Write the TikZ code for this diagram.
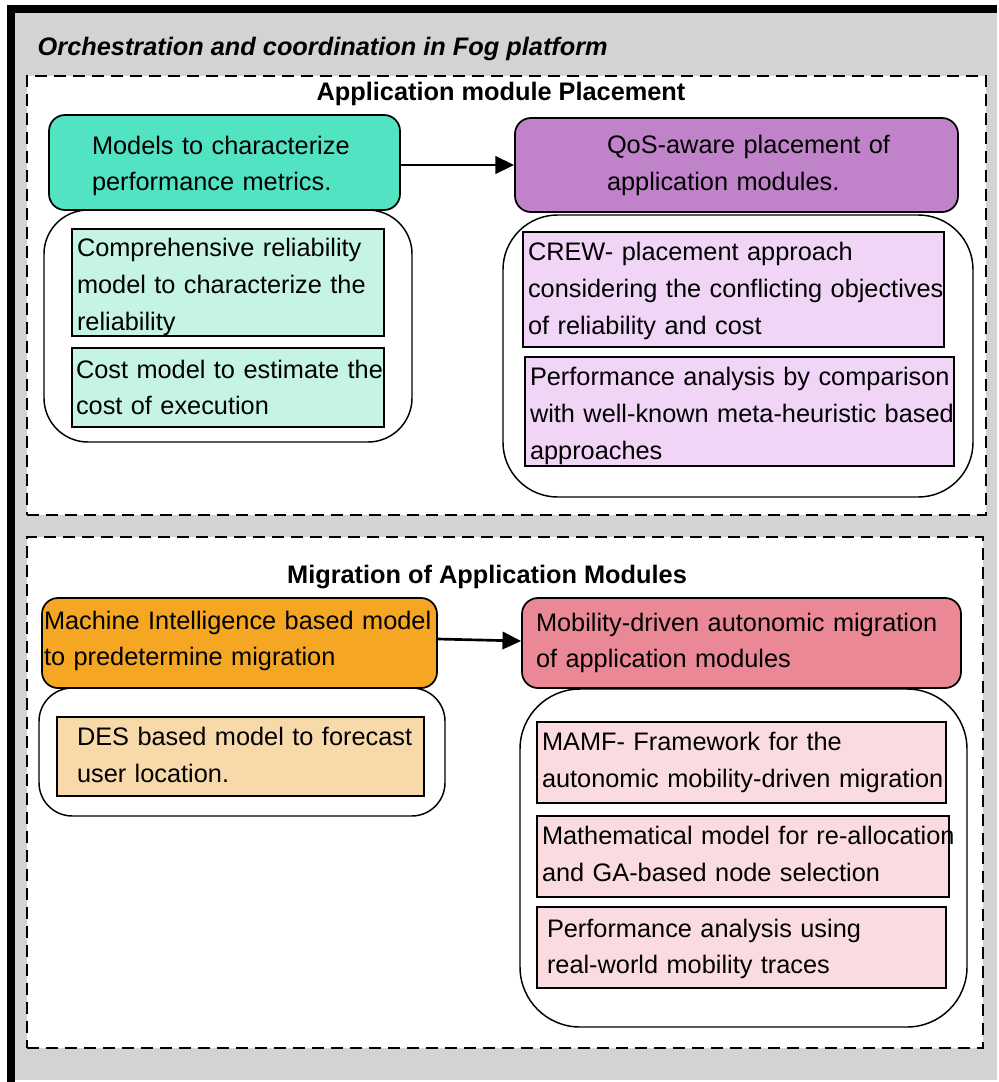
\documentclass[tikz,border=0pt]{standalone}
\usepackage{fontspec}
\setmainfont{Liberation Sans}
\usetikzlibrary{arrows.meta}

\definecolor{panelgray}{RGB}{211,211,211}
\definecolor{teal1}{RGB}{82,227,194}
\definecolor{mint1}{RGB}{197,245,226}
\definecolor{violet1}{RGB}{192,131,201}
\definecolor{lilac1}{RGB}{240,213,246}
\definecolor{orange1}{RGB}{245,166,35}
\definecolor{apricot1}{RGB}{248,218,170}
\definecolor{rose1}{RGB}{235,136,150}
\definecolor{blush1}{RGB}{250,220,224}

% box from pixel corners (x1,y1)-(x2,y2), text starting at x = tx
% #1 name, #2 x1, #3 y1, #4 x2, #5 y2, #6 tx, #7 style, #8 text
\newcommand\fogbox[8]{%
  \pgfmathsetmacro\fbw{(#4-#2)*0.75}%
  \pgfmathsetmacro\fbh{(#5-#3)*0.75}%
  \pgfmathsetmacro\fbx{(#6-#2)*0.75}%
  \pgfmathsetmacro\fbt{\fbw-2*\fbx}%
  \node[#7, minimum width=\fbw pt, minimum height=\fbh pt,
        inner xsep=\fbx pt, inner ysep=0pt, text width=\fbt pt]
        (#1) at ({(#2+#4)/2},{(#3+#5)/2}) {#8};%
}
% vertical nudges of the text block inside a box:
% a taller first line moves the block down by half the extra height,
% a deeper last line moves it up by half the extra depth
\newcommand\pushdown[1]{\rule{0pt}{\dimexpr\fontcharht\font`\d+#1\relax}}
\newcommand\pushup[1]{\rule[-#1]{0pt}{#1}}

\begin{document}
\begin{tikzpicture}[x=0.75pt,y=-0.75pt,
  every node/.style={font=\fontsize{19}{27.6}\selectfont},
  section/.style={draw, dash pattern=on 9pt off 5.25pt, line width=1.4pt, fill=white},
  holder/.style={draw, line width=1.1pt, fill=white},
  header/.style={draw, line width=1.3pt, rounded corners=12pt, align=left},
  item/.style={draw, line width=1.1pt, align=left},
  flow/.style={line width=2pt, -{Triangle[length=14pt,width=13pt]}}
]
\useasboundingbox (0,0) rectangle (999,1082);

% background panel and heavy frame
\fill[panelgray] (7,5) rectangle (997,1080);
\draw[line width=6pt] (11,1082) -- (11,9) -- (997,9);

\node[anchor=base west, font=\fontsize{19}{23}\selectfont\bfseries\itshape] (title)
  at (33,55) {Orchestration and coordination in Fog platform};

% section frames
\fogbox{s1}{27}{76}{986}{515}{27}{section}{}
\fogbox{s2}{27}{537}{983}{1048}{27}{section}{}

\node[anchor=base, font=\fontsize{19}{23}\selectfont\bfseries] (t1) at (501,100) {Application module Placement};
\node[anchor=base, font=\fontsize{19}{23}\selectfont\bfseries] (t2) at (487,583) {Migration of Application Modules};

% rounded holders
\fogbox{gc}{44}{210}{412}{442}{44}{holder, rounded corners=33pt}{}
\fogbox{pc}{503}{215}{973}{497}{503}{holder, rounded corners=41pt}{}
\fogbox{oc}{39}{688}{445}{816}{39}{holder, rounded corners=25pt}{}
\fogbox{kc}{520}{689}{967}{1027}{520}{holder, rounded corners=45pt}{}

% headers
\fogbox{m1}{49}{115}{400}{210}{92}{header, fill=teal1}
  {\mbox{\pushdown{6pt}Models to characterize}\\\mbox{performance metrics.}}
\fogbox{q1}{515}{118}{958}{212}{607}{header, fill=violet1}
  {\mbox{\pushdown{1.5pt}QoS-aware placement of}\\\mbox{application modules.}}
\fogbox{o1}{42}{598}{437}{688}{44}{header, fill=orange1}
  {\mbox{Machine Intelligence based model}\\\mbox{to predetermine migration\pushup{7pt}}}
\fogbox{k1}{522}{598}{961}{688}{536}{header, fill=rose1}
  {\mbox{Mobility-driven autonomic migration}\\\mbox{of application modules}}

% detail items
\fogbox{g1}{72}{229}{384}{336}{77}{item, fill=mint1}
  {\mbox{\pushdown{7.5pt}Comprehensive reliability}\\\mbox{model to characterize the}\\\mbox{reliability}}
\fogbox{g2}{72}{348}{384}{427}{76}{item, fill=mint1}
  {\mbox{Cost model to estimate the}\\\mbox{cost of execution}}
\fogbox{p1}{523}{232}{944}{347}{528}{item, fill=lilac1}
  {\mbox{\pushdown{3pt}CREW- placement approach}\\\mbox{considering the conflicting objectives}\\\mbox{of reliability and cost}}
\fogbox{p2}{525}{357}{954}{466}{530}{item, fill=lilac1}
  {\mbox{\pushdown{7.5pt}Performance analysis by comparison}\\\mbox{with well-known meta-heuristic based}\\\mbox{approaches}}
\fogbox{o2}{57}{717}{424}{796}{77}{item, fill=apricot1}
  {\mbox{DES based model to forecast}\\\mbox{user location.\pushup{3pt}}}
\fogbox{k2}{537}{722}{946}{803}{542}{item, fill=blush1}
  {\mbox{MAMF- Framework for the}\\\mbox{autonomic mobility-driven migration}}
\fogbox{k3}{537}{816}{949}{897}{542}{item, fill=blush1}
  {\mbox{Mathematical model for re-allocation}\\\mbox{and GA-based node selection\pushup{4.5pt}}}
\fogbox{k4}{537}{907}{946}{988}{547}{item, fill=blush1}
  {\mbox{\pushdown{3pt}Performance analysis using}\\\mbox{real-world mobility traces}}

% connectors
\draw[flow] (m1.east |- q1.west) -- (q1.west);
\draw[flow] ([yshift=3pt]o1.east) -- ([yshift=1.5pt]k1.west);
\end{tikzpicture}
\end{document}
